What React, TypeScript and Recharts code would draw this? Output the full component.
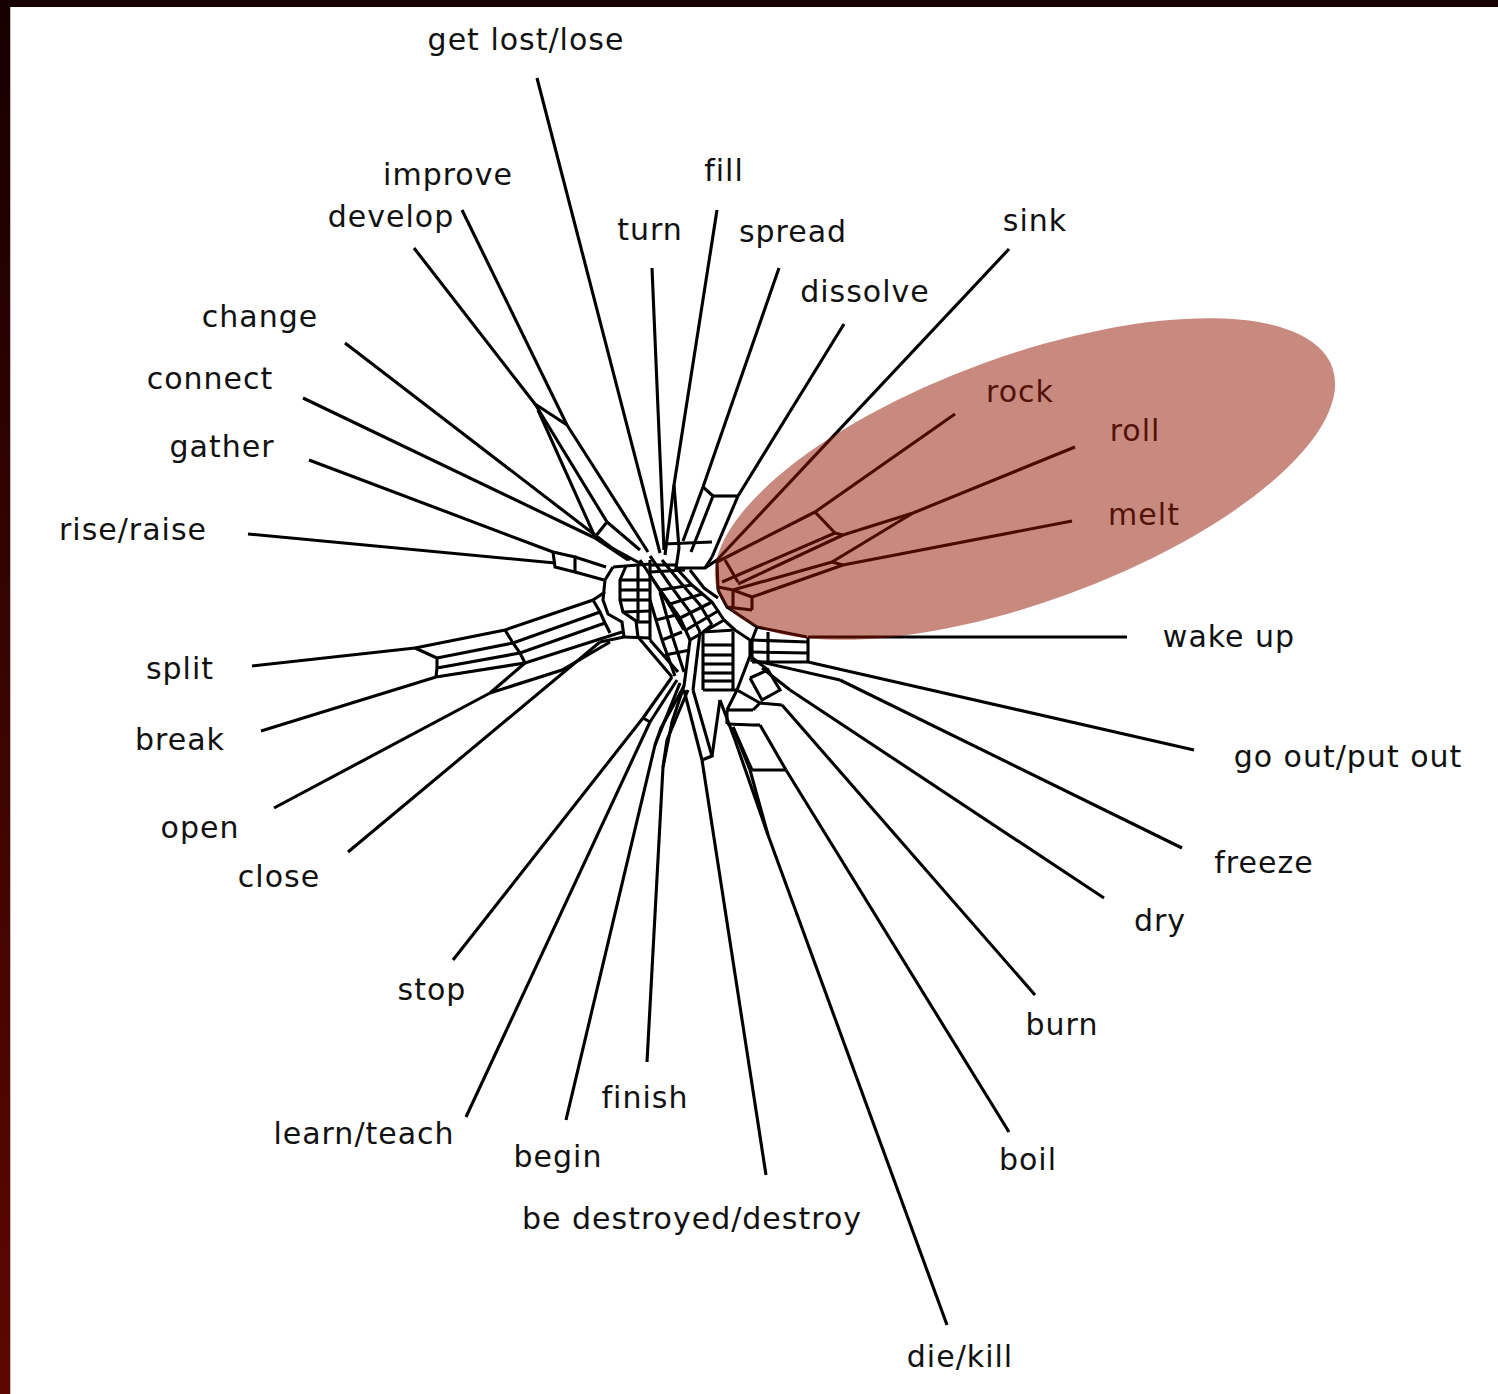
import { ScatterChart, Scatter, XAxis, YAxis } from 'recharts'

// NeighborNet splits graph of verb meanings, laid out in picture coordinates
const W = 1498
const H = 1394

type Pt = [number, number]

const taxa = [
  'get lost/lose', 'improve', 'develop', 'turn', 'fill', 'spread', 'dissolve', 'sink',
  'rock', 'roll', 'melt', 'wake up', 'go out/put out', 'freeze', 'dry', 'burn', 'boil',
  'die/kill', 'be destroyed/destroy', 'finish', 'begin', 'learn/teach', 'stop', 'close',
  'open', 'break', 'split', 'rise/raise', 'gather', 'connect', 'change',
]

// where each label sits (centre x, baseline y)
const labelPos: Pt[] = [
  [526, 50], [448, 185], [391, 227], [650, 240], [724, 181], [793, 242], [865, 302], [1035, 231],
  [1020, 402], [1135, 441], [1144, 525], [1229, 647], [1348, 767], [1264, 873], [1160, 931],
  [1062, 1035], [1028, 1170], [960, 1367], [692, 1229], [645, 1108], [558, 1167], [364, 1144],
  [432, 1000], [279, 887], [200, 838], [180, 750], [180, 679], [133, 540], [222, 457],
  [210, 389], [260, 327],
]

// outer end of each leaf edge
const leafTips: Pt[] = [
  [537, 78], [462, 210], [414, 248], [652, 268], [717, 210], [779, 268], [844, 324], [1009, 249],
  [955, 414], [1075, 447], [1072, 521], [1127, 637], [1194, 750], [1182, 848], [1104, 898],
  [1035, 995], [1009, 1132], [947, 1325], [766, 1175], [647, 1062], [566, 1120], [466, 1117],
  [453, 960], [348, 852], [274, 808], [261, 731], [252, 666], [248, 534], [309, 460],
  [303, 398], [345, 343],
]

// inner end of each leaf edge, where it joins the web
const leafNodes: Pt[] = [
  [660, 553], [567, 425], [535, 404], [664, 550], [674, 485], [703, 487], [738, 496], [717, 560],
  [815, 512], [913, 513], [843, 565], [808, 637], [808, 662], [840, 680], [790, 690],
  [782, 705], [786, 770], [768, 835], [702, 760], [663, 767], [655, 745], [650, 722],
  [643, 718], [600, 642], [490, 693], [436, 677], [415, 648], [555, 563], [553, 552],
  [595, 538], [612, 548],
]

const webUpperLeft: Pt[][] = [
  [[535, 404], [567, 425]],
  [[535, 404], [607, 522], [640, 550]],
  [[538, 410], [595, 537], [630, 560]],
  [[567, 425], [648, 552]],
  [[607, 522], [595, 537]],
  [[553, 552], [575, 557], [575, 572], [555, 567], [553, 552]],
  [[575, 557], [606, 567]],
  [[575, 572], [604, 580]],
  [[612, 548], [645, 566]],
  [[595, 538], [628, 560]],
]

const webLeftBlock: Pt[][] = [
  [[613, 567], [605, 580], [603, 600], [608, 614], [622, 622], [624, 637]],
  [[626, 566], [620, 580], [620, 600], [623, 612], [636, 621], [638, 637]],
  [[613, 567], [650, 564]],
  [[620, 580], [650, 580]],
  [[620, 590], [650, 590]],
  [[620, 600], [650, 600]],
  [[623, 612], [650, 611]],
  [[636, 622], [650, 622]],
  [[624, 637], [650, 638]],
  [[650, 560], [650, 640]],
  [[638, 566], [638, 622]],
]

const webSplitBand: Pt[][] = [
  [[415, 648], [505, 630], [593, 600], [605, 592]],
  [[437, 658], [513, 643], [600, 612]],
  [[437, 668], [520, 653], [605, 623]],
  [[436, 677], [525, 663], [622, 632]],
  [[415, 648], [437, 658], [437, 668], [436, 677]],
  [[505, 630], [513, 643], [520, 653], [525, 663]],
  [[593, 600], [600, 612], [605, 623], [610, 633]],
  [[490, 693], [525, 663]],
  [[490, 693], [562, 670], [610, 642]],
  [[600, 642], [624, 637]],
]

const webHub: Pt[][] = [
  [[674, 485], [665, 555]],
  [[674, 485], [679, 548]],
  [[703, 487], [683, 541]],
  [[703, 487], [713, 496], [691, 552]],
  [[713, 496], [738, 496]],
  [[738, 496], [712, 557]],
  [[663, 544], [712, 542]],
  [[679, 548], [676, 568], [705, 568], [712, 557]],
  [[650, 565], [676, 565]],
  [[717, 560], [705, 568]],
  [[640, 560], [660, 590], [680, 618], [690, 640]],
  [[650, 556], [670, 585], [690, 612], [700, 632]],
  [[662, 560], [680, 582], [700, 605], [712, 625]],
  [[676, 568], [692, 585], [712, 602], [724, 620]],
  [[650, 575], [668, 603], [684, 630]],
  [[690, 570], [704, 588], [718, 598]],
  [[650, 572], [685, 570]],
  [[660, 590], [692, 585]],
  [[670, 604], [702, 594]],
  [[680, 618], [712, 602]],
  [[686, 630], [718, 611]],
  [[690, 640], [724, 620]],
  [[650, 600], [662, 640], [675, 676]],
  [[660, 592], [672, 635], [684, 672]],
  [[662, 640], [682, 632]],
  [[656, 620], [676, 615]],
  [[638, 637], [672, 677]],
  [[650, 640], [678, 672]],
  [[665, 655], [690, 650]],
]

const webHighlighted: Pt[][] = [
  [[815, 512], [717, 562]],
  [[815, 512], [835, 533]],
  [[835, 533], [722, 582]],
  [[913, 513], [843, 535]],
  [[835, 533], [843, 535]],
  [[843, 535], [738, 584]],
  [[913, 513], [832, 562]],
  [[832, 562], [733, 590]],
  [[843, 565], [752, 597]],
  [[832, 562], [843, 565]],
  [[725, 560], [738, 582]],
  [[718, 587], [733, 590], [752, 597]],
  [[733, 590], [733, 607]],
  [[752, 597], [752, 610]],
  [[718, 590], [727, 607], [752, 610]],
  [[717, 562], [718, 590]],
  [[727, 607], [757, 627], [807, 637]],
]

const webRight: Pt[][] = [
  [[757, 627], [752, 640], [752, 662]],
  [[752, 640], [808, 642]],
  [[752, 652], [808, 653]],
  [[752, 662], [808, 662]],
  [[768, 632], [768, 662]],
  [[808, 637], [808, 662]],
  [[703, 632], [703, 690]],
  [[703, 632], [735, 630], [750, 640], [750, 656], [737, 690], [703, 690]],
  [[733, 632], [733, 690]],
  [[703, 645], [733, 645]],
  [[703, 655], [733, 655]],
  [[703, 664], [733, 664]],
  [[703, 673], [733, 673]],
  [[703, 681], [733, 681]],
  [[724, 620], [735, 630]],
  [[712, 625], [703, 632]],
  [[840, 680], [752, 660]],
  [[790, 690], [762, 668]],
  [[782, 705], [760, 703]],
  [[750, 678], [762, 700], [780, 690], [768, 670], [750, 678]],
  [[737, 690], [760, 703]],
  [[750, 656], [768, 670]],
]

const webLower: Pt[][] = [
  [[727, 710], [753, 710]],
  [[727, 724], [753, 725]],
  [[727, 710], [727, 724]],
  [[753, 710], [760, 703]],
  [[737, 690], [727, 710]],
  [[733, 727], [752, 770]],
  [[760, 725], [786, 770]],
  [[752, 770], [786, 770]],
  [[753, 725], [760, 725]],
  [[768, 835], [750, 770]],
  [[768, 835], [735, 740], [720, 700]],
  [[750, 770], [733, 727]],
  [[643, 718], [672, 677]],
  [[643, 718], [650, 722]],
  [[650, 722], [677, 680]],
  [[655, 745], [680, 683]],
  [[655, 745], [661, 728], [684, 686]],
  [[663, 767], [672, 722], [684, 686]],
  [[663, 767], [667, 740], [688, 690]],
  [[702, 760], [684, 690]],
  [[702, 760], [712, 756], [693, 690]],
  [[712, 756], [720, 700]],
  [[690, 640], [684, 686]],
  [[700, 632], [693, 690]],
]

const highlightCentre = [{ x: 1025, y: 479 }]
const HIGHLIGHT_RX = 327
const HIGHLIGHT_RY = 123
const HIGHLIGHT_TILT = -20

const toPoints = (line: Pt[]) => line.map(([x, y]) => ({ x, y }))

const leafLines: Pt[][] = leafTips.map((tip, i) => [tip, leafNodes[i]])
const allLines: Pt[][] = [
  ...leafLines,
  ...webUpperLeft,
  ...webLeftBlock,
  ...webSplitBand,
  ...webHub,
  ...webHighlighted,
  ...webRight,
  ...webLower,
]

const labelData = taxa.map((name, i) => ({ x: labelPos[i][0], y: labelPos[i][1], name }))

const NoDot = () => <g />

function TaxonLabel(props: any) {
  const { cx, cy, payload } = props
  return (
    <text
      x={cx}
      y={cy}
      textAnchor="middle"
      fontFamily="DejaVu Sans, sans-serif"
      fontSize={30}
      letterSpacing={1}
      fill="#111"
    >
      {payload.name}
    </text>
  )
}

function HighlightBlob(props: any) {
  const { cx, cy } = props
  return (
    <ellipse
      cx={cx}
      cy={cy}
      rx={HIGHLIGHT_RX}
      ry={HIGHLIGHT_RY}
      transform={`rotate(${HIGHLIGHT_TILT} ${cx} ${cy})`}
      fill="#921400"
      fillOpacity={0.5}
    />
  )
}

export default function App() {
  return (
    <div
      style={{
        position: 'relative',
        width: W,
        height: H,
        background: 'linear-gradient(to bottom, #170000, #5e0700)',
        overflow: 'hidden',
      }}
    >
      <style>{'body { margin: 0; }'}</style>
      <div
        style={{
          position: 'absolute',
          left: 10,
          top: 7,
          right: 0,
          bottom: 0,
          background: '#fff',
          borderLeft: '1px solid #c9b8b8',
        }}
      />
      <div style={{ position: 'absolute', left: 0, top: 0 }}>
        <ScatterChart width={W} height={H} margin={{ top: 0, right: 0, bottom: 0, left: 0 }}>
          <XAxis type="number" dataKey="x" domain={[0, W]} hide allowDataOverflow />
          <YAxis type="number" dataKey="y" domain={[0, H]} reversed hide allowDataOverflow />
          {allLines.map((line, i) => (
            <Scatter
              key={`l${i}`}
              data={toPoints(line)}
              line={{ stroke: '#000', strokeWidth: 3.1 }}
              shape={NoDot}
              isAnimationActive={false}
            />
          ))}
          <Scatter data={labelData} shape={TaxonLabel} isAnimationActive={false} />
          <Scatter data={highlightCentre} shape={HighlightBlob} isAnimationActive={false} />
        </ScatterChart>
      </div>
    </div>
  )
}
